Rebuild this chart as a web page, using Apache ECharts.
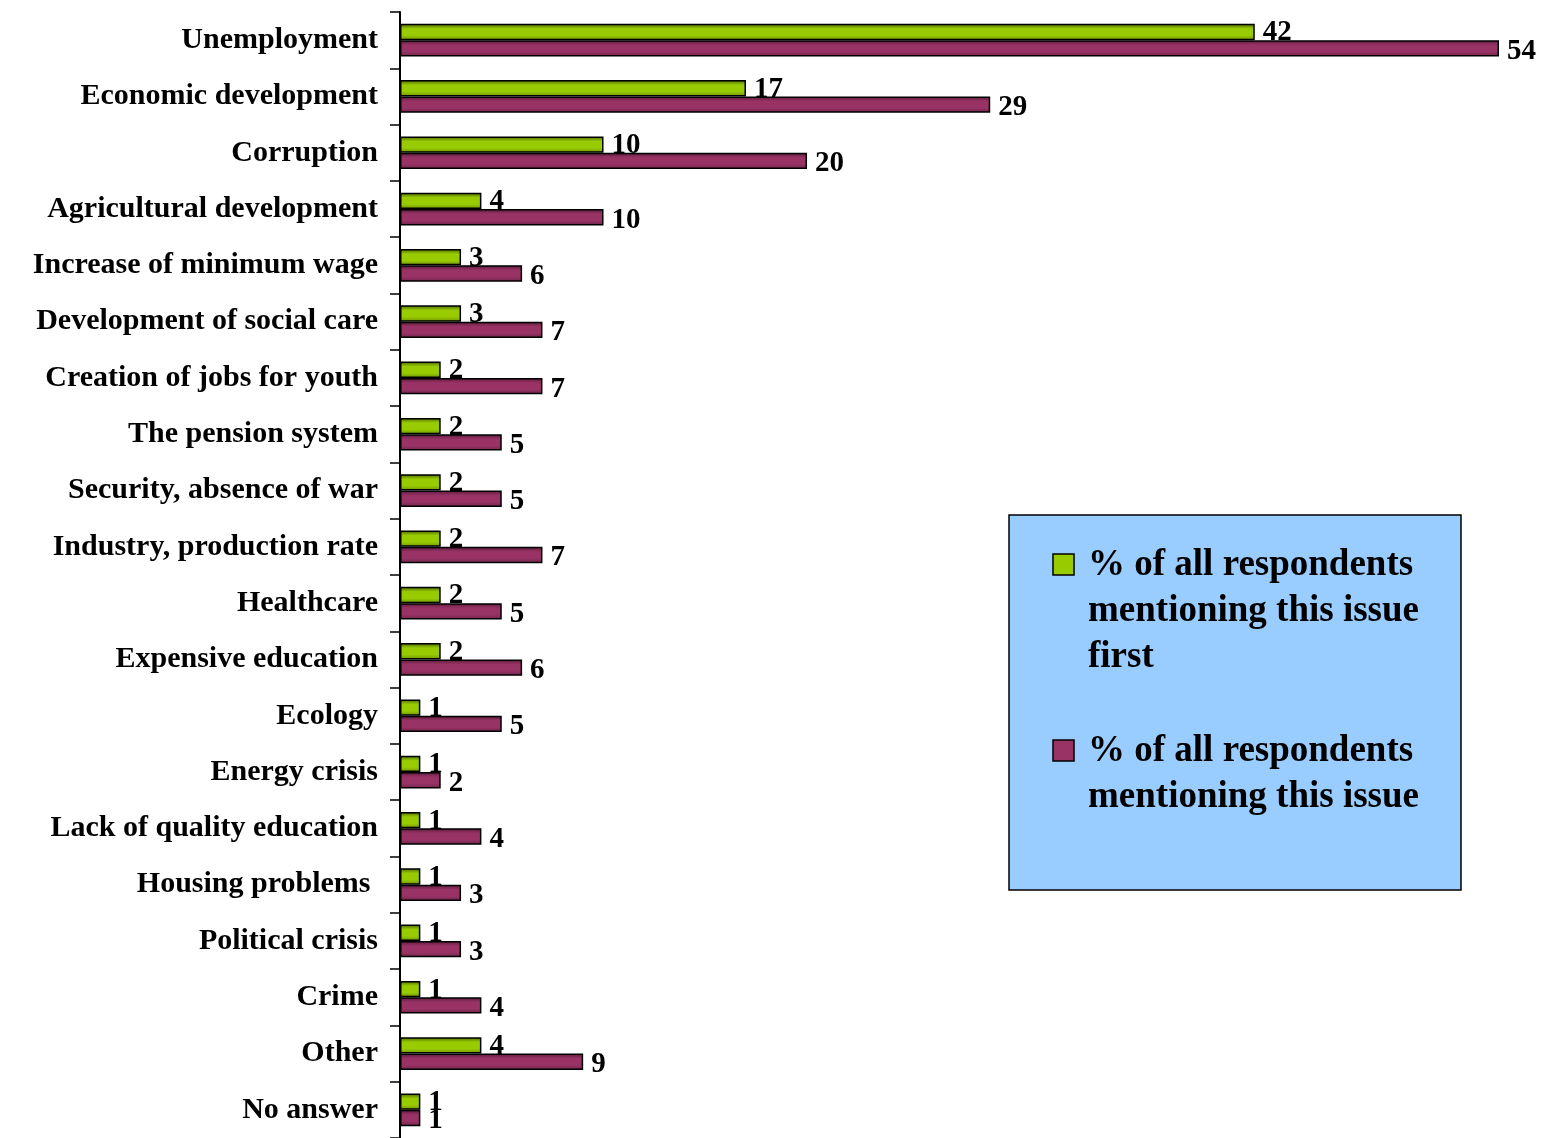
<!DOCTYPE html>
<html>
<head>
<meta charset="utf-8">
<script src="https://cdn.jsdelivr.net/npm/echarts@6/dist/echarts.min.js"></script>
<style>
  html, body { margin: 0; padding: 0; background: #fff; }
  #main { width: 1541px; height: 1138px; }
</style>
</head>
<body>
<div id="main"></div>
<script>
// categories and values
const categories = [
  'Unemployment', 'Economic development', 'Corruption', 'Agricultural development',
  'Increase of minimum wage', 'Development of social care', 'Creation of jobs for youth',
  'The pension system', 'Security, absence of war', 'Industry, production rate',
  'Healthcare', 'Expensive education', 'Ecology', 'Energy crisis',
  'Lack of quality education', 'Housing problems ', 'Political crisis', 'Crime',
  'Other', 'No answer'
]
const firstMention = [42, 17, 10, 4, 3, 3, 2, 2, 2, 2, 2, 2, 1, 1, 1, 1, 1, 1, 4, 1]
const allMention = [54, 29, 20, 10, 6, 7, 7, 5, 5, 7, 5, 6, 5, 2, 4, 3, 3, 4, 9, 1]
const seriesNames = [
  '% of all respondents\nmentioning this issue\nfirst',
  '% of all respondents\nmentioning this issue'
]

const font = '"Liberation Serif", "Times New Roman", serif'
const green = '#99cc00'
const purple = '#993366'

const grad = (edge1, mid, edge2) => new echarts.graphic.LinearGradient(0, 0, 0, 1, [
  { offset: 0, color: edge1 },
  { offset: 0.3, color: mid },
  { offset: 0.7, color: mid },
  { offset: 1, color: edge2 }
])

const labelStyle = {
  show: true,
  position: 'right',
  distance: 8,
  color: '#000',
  fontFamily: font,
  fontWeight: 'bold',
  fontSize: 29
}

// legend box drawn as graphic so the swatch sits on the first text line
const legendText = {
  fill: '#000',
  font: 'bold 37px ' + font,
  lineHeight: 46,
  verticalAlign: 'top'
}
const legendGraphic = [
  {
    type: 'rect',
    shape: { x: 1009, y: 515, width: 452, height: 375 },
    style: { fill: '#99ccff', stroke: '#000', lineWidth: 1.5 }
  },
  {
    type: 'rect',
    shape: { x: 1053, y: 554, width: 21, height: 21 },
    style: { fill: green, stroke: '#000', lineWidth: 1.5 }
  },
  {
    type: 'text',
    x: 1088,
    y: 542,
    style: Object.assign({ text: seriesNames[0] }, legendText)
  },
  {
    type: 'rect',
    shape: { x: 1053, y: 740, width: 21, height: 21 },
    style: { fill: purple, stroke: '#000', lineWidth: 1.5 }
  },
  {
    type: 'text',
    x: 1088,
    y: 728,
    style: Object.assign({ text: seriesNames[1] }, legendText)
  }
]

const main = document.getElementById('main')
const myChart = echarts.init(main)
const option = {
  animation: false,
  grid: { left: 400, right: 42, top: 12, bottom: -5, containLabel: false },
  xAxis: {
    type: 'value',
    min: 0,
    max: 54,
    show: false
  },
  yAxis: {
    type: 'category',
    inverse: true,
    data: categories,
    axisLine: { show: true, lineStyle: { color: '#000', width: 2 } },
    axisTick: { show: true, length: 10, lineStyle: { color: '#000', width: 1.5 } },
    axisLabel: {
      margin: 22,
      padding: [6, 0, 0, 0],
      color: '#000',
      fontFamily: font,
      fontWeight: 'bold',
      fontSize: 30
    },
    splitLine: { show: false }
  },
  graphic: legendGraphic,
  series: [
    {
      name: seriesNames[0],
      type: 'bar',
      data: firstMention,
      barGap: '0%',
      barCategoryGap: '42%',
      itemStyle: {
        color: grad('#4a6400', green, '#6f9400'),
        borderColor: '#000',
        borderWidth: 1.5
      },
      label: Object.assign({}, labelStyle, { offset: [0, 1] })
    },
    {
      name: seriesNames[1],
      type: 'bar',
      data: allMention,
      itemStyle: {
        color: grad('#571a38', purple, '#6e2549'),
        borderColor: '#000',
        borderWidth: 1.5
      },
      label: Object.assign({}, labelStyle, { offset: [0, 3] })
    }
  ]
}
myChart.setOption(option)
window.onresize = () => {
  myChart.resize()
}
</script>
</body>
</html>
